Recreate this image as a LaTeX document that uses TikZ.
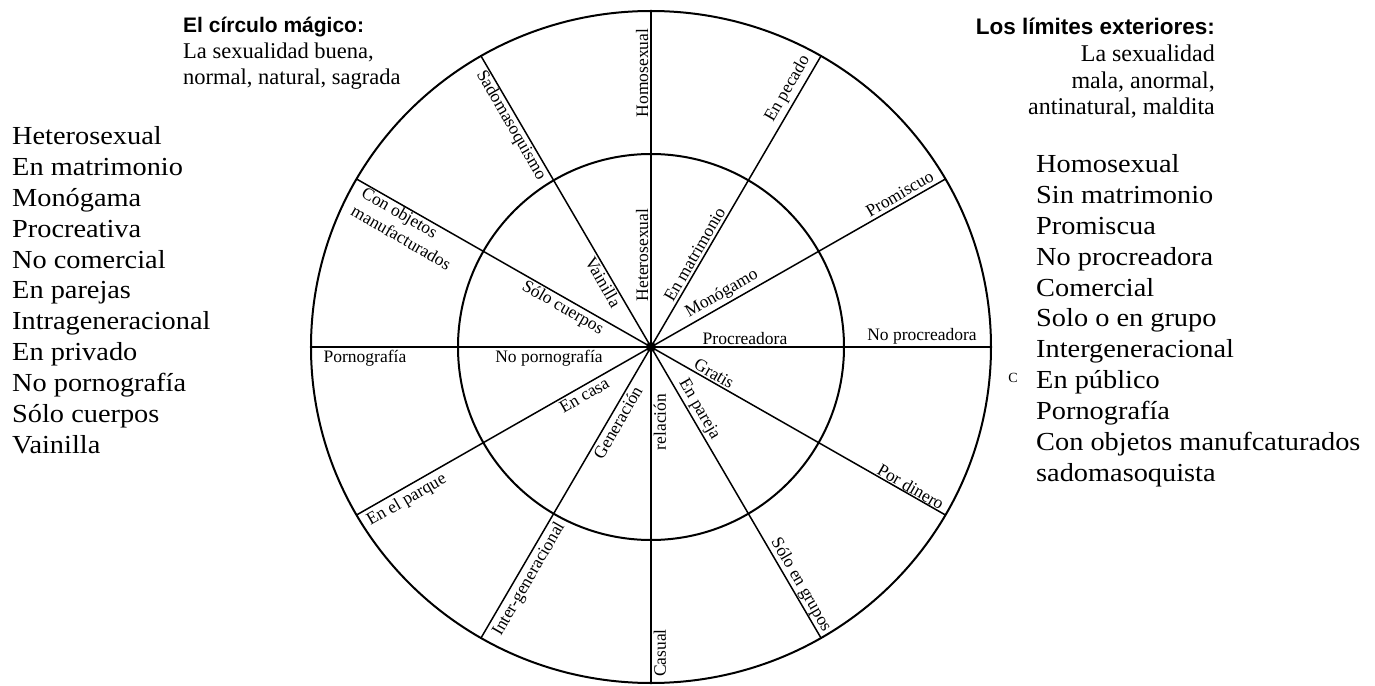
\documentclass[tikz,border=0pt]{standalone}
\usepackage{fontspec}
\setmainfont{Liberation Serif}
\newfontfamily\listfont{Liberation Serif}[FakeStretch=1.09]
\newfontfamily\headfont{Liberation Sans}
\begin{document}
\begin{tikzpicture}[x=1pt,y=1pt,
  lab/.style={font=\fontsize{17.5}{21}\selectfont, inner sep=2.5pt},
  cw/.style={lab, anchor=south},
  ccw/.style={lab, anchor=north},
  txt/.style={inner sep=0pt},
  listtxt/.style={txt, anchor=base west, font=\listfont\fontsize{26}{30}\selectfont},
  headl/.style={txt, font=\headfont\bfseries\fontsize{21}{24}\selectfont},
  headr/.style={txt, font=\headfont\bfseries\fontsize{22.5}{26}\selectfont},
  subl/.style={txt, font=\fontsize{22.5}{26}\selectfont},
  subr/.style={txt, font=\fontsize{24}{27}\selectfont},
  ring/.style={line width=2pt},
  spoke/.style={line width=1.5pt}]
\useasboundingbox (-651,-338) rectangle (724,347);
\fill[white] (-651,-338) rectangle (724,347);

% wheel
\draw[ring] (0,0) ellipse [x radius=340, y radius=336];
\draw[ring] (0,0) circle [radius=193];
\node[circle, fill=black, inner sep=0pt, minimum size=10pt] (O) at (0,0) {};
\foreach \a in {0,30,...,330} {
  \coordinate (E\a) at (\a:340 and 336);
  \draw[spoke] (O.center) -- (E\a);
}

% labels on the right half (text on the counter-clockwise side of each spoke)
\node[cw, rotate=90] (hetero) at (90:92) {Heterosexual};
\node[cw, rotate=90] (homo) at (90:274) {Homosexual};
\node[cw, rotate=60] (matr) at (60:102) {En matrimonio};
\node[cw, rotate=60] (pecado) at (60:292) {En pecado};
\node[cw, rotate=30] (monog) at (30:88) {Monógamo};
\node[cw, rotate=30] (promis) at (30:292) {Promiscuo};
\node[cw] (procr) at (0:94) {Procreadora};
\node[cw] (noprocr) at (0:271) {No procreadora};
\node[cw, rotate=-30] (gratis) at (-30:68) {Gratis};
\node[cw, rotate=-30] (dinero) at (-30:295) {Por dinero};
\node[cw, rotate=-60] (pareja) at (-60:78) {En pareja};
\node[cw, rotate=-60] (grupos) at (-60:281) {Sólo en grupos};

% labels on the left half
\node[ccw, rotate=90] (relacion) at (-90:75) {relación};
\node[ccw, rotate=90] (casual) at (-90:306) {Casual};
\node[ccw, rotate=60] (generacion) at (-120:82) {Generación};
\node[ccw, rotate=60] (intergen) at (-120:262) {Inter-generacional};
\node[ccw, rotate=30] (casa) at (-150:82) {En casa};
\node[ccw, rotate=30] (parque) at (-150:288) {En el parque};
\node[ccw] (nopor) at (180:102) {No pornografía};
\node[ccw] (porno) at (180:286) {Pornografía};
\node[ccw, rotate=-30] (cuerpos) at (150:96) {Sólo cuerpos};
\node[ccw, rotate=-30, align=left] (objetos) at (150:271) {Con objetos\\manufacturados};
\node[ccw, rotate=-60] (vainilla) at (120:80) {Vainilla};
\node[ccw, rotate=-60] (sado) at (120:262) {Sadomasoquismo};

% headings
\node[headl, anchor=base west] (hl) at (-468,314) {El círculo mágico:};
\node[subl, anchor=base west] (hl1) at (-468,288) {La sexualidad buena,};
\node[subl, anchor=base west] (hl2) at (-468,262) {normal, natural, sagrada};

\node[headr, anchor=base east] (hr) at (564,312) {Los límites exteriores:};
\node[subr, anchor=base east] (hr1) at (564,285) {La sexualidad};
\node[subr, anchor=base east] (hr2) at (564,258) {mala, anormal,};
\node[subr, anchor=base east] (hr3) at (564,232) {antinatural, maldita};

\node[txt, font=\fontsize{14}{16}\selectfont] (c) at (362,-31) {C};

% lists
\foreach \t [count=\i from 0] in {Heterosexual, En matrimonio, Monógama, Procreativa, No comercial, En parejas, Intrageneracional, En privado, No pornografía, Sólo cuerpos, Vainilla}
  \node[listtxt] (L\i) at (-639, 202-30.8*\i) {\t};
\foreach \t [count=\i from 0] in {Homosexual, Sin matrimonio, Promiscua, No procreadora, Comercial, Solo o en grupo, Intergeneracional, En público, Pornografía, Con objetos manufcaturados, sadomasoquista}
  \node[listtxt] (R\i) at (385, 174-30.8*\i) {\t};
\end{tikzpicture}
\end{document}
